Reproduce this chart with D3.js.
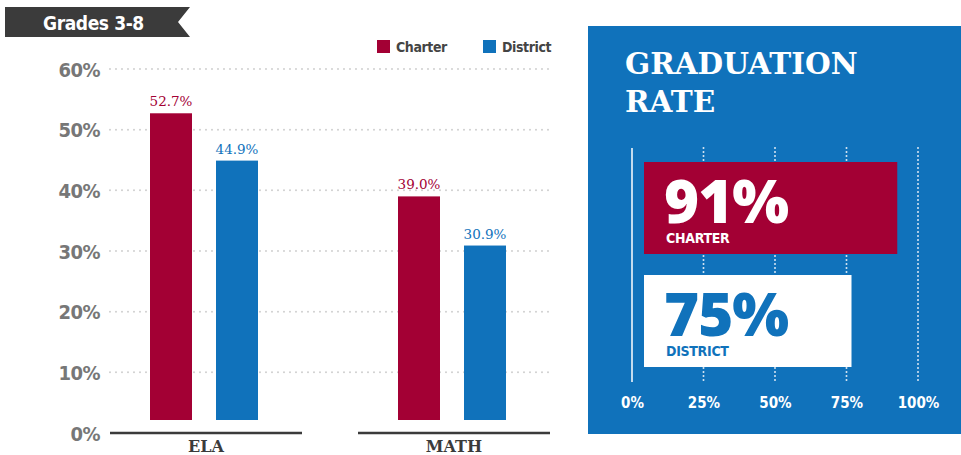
<!DOCTYPE html>
<html>
<head>
<meta charset="utf-8">
<script src="https://cdn.jsdelivr.net/npm/d3@7"></script>
<style>
  body { margin: 0; background: #fff; }
  svg { display: block; }
</style>
</head>
<body>
<div id="canvas"></div>
<script>
"use strict"

/***********************************
 DATA
************************************/
let subjects = ["ELA", "MATH"];
let seriesNames = ["Charter", "District"];
let charterScores = [52.7, 39.0];
let districtScores = [44.9, 30.9];
let yTicks = [0, 10, 20, 30, 40, 50, 60];

let gradSeries = ["CHARTER", "DISTRICT"];
let gradRates = [91, 75];
let gradTicks = [0, 25, 50, 75, 100];

/***********************************
 CONFIG
************************************/
let svgWidth = 961;
let svgHeight = 455;
let red = "#a30034";
let blue = "#1072bb";
let dark = "#3b3b3b";
let condensed = "'Liberation Sans Narrow', 'DejaVu Sans Condensed', sans-serif";
let slab = "'DejaVu Serif', serif";

let svg = d3.select("#canvas")
    .append("svg")
    .attr("width", svgWidth)
    .attr("height", svgHeight);

/***********************************
 LEFT CHART: GRADES 3-8
************************************/
let yScale = d3.scaleLinear()
    .domain([0, 60])
    .range([433, 69]);

let xScale = d3.scaleBand()
    .domain(subjects)
    .range([110, 550])
    .paddingInner(56 / 248)
    .paddingOuter(0);

let xInner = d3.scaleBand()
    .domain(seriesNames)
    .range([40, 148])
    .paddingInner(24 / 66)
    .paddingOuter(0);

let colorScale = d3.scaleOrdinal()
    .domain(seriesNames)
    .range([red, blue]);

// banner
svg.append("path")
    .attr("d", "M5,7 L190,7 L178,22 L190,37 L5,37 Z")
    .attr("fill", dark);

svg.append("text")
    .attr("x", 43)
    .attr("y", 30)
    .attr("fill", "#fff")
    .attr("font-family", condensed)
    .attr("font-weight", "bold")
    .attr("font-size", 19)
    .attr("letter-spacing", -0.4)
    .text("Grades 3-8");

// dotted gridlines
let grid = svg.append("g");
grid.selectAll("line")
    .data(yTicks.filter(d => d > 0))
    .join("line")
    .attr("x1", 110)
    .attr("x2", 550)
    .attr("y1", d => yScale(d))
    .attr("y2", d => yScale(d))
    .attr("stroke", "#cfcfcf")
    .attr("stroke-width", 2)
    .attr("stroke-linecap", "round")
    .attr("stroke-dasharray", "0,6");

// y axis labels
let yAxis = d3.axisLeft(yScale)
    .tickValues(yTicks)
    .tickFormat(d => d + "%")
    .tickSize(0)
    .tickPadding(0);

let yAxisG = svg.append("g")
    .attr("transform", "translate(100,0)")
    .call(yAxis);
yAxisG.select(".domain").remove();
yAxisG.selectAll("text")
    .attr("fill", "#777")
    .attr("font-family", condensed)
    .attr("font-weight", "bold")
    .attr("font-size", 20)
    .attr("letter-spacing", -0.5)
    .attr("dy", "0.35em");

// rows of data per subject
let rows = subjects.map((s, i) => ({
    subject: s,
    values: [
        { name: "Charter", value: charterScores[i] },
        { name: "District", value: districtScores[i] }
    ]
}));

let groups = svg.selectAll("g.subject")
    .data(rows)
    .join("g")
    .attr("class", "subject")
    .attr("transform", d => `translate(${xScale(d.subject)},0)`);

// bars (stop a little above the baseline, like the original)
groups.selectAll("rect")
    .data(d => d.values)
    .join("rect")
    .attr("x", d => xInner(d.name))
    .attr("width", xInner.bandwidth())
    .attr("y", d => yScale(d.value))
    .attr("height", d => yScale(0) - 13 - yScale(d.value))
    .attr("fill", d => colorScale(d.name));

// value labels
groups.selectAll("text.value")
    .data(d => d.values)
    .join("text")
    .attr("class", "value")
    .attr("x", d => xInner(d.name) + xInner.bandwidth() / 2)
    .attr("y", d => yScale(d.value) - 7)
    .attr("text-anchor", "middle")
    .attr("fill", d => colorScale(d.name))
    .attr("font-family", slab)
    .attr("font-size", 13.5)
    .text(d => d.value.toFixed(1) + "%");

// baseline segments
groups.append("line")
    .attr("x1", 0)
    .attr("x2", xScale.bandwidth())
    .attr("y1", yScale(0))
    .attr("y2", yScale(0))
    .attr("stroke", dark)
    .attr("stroke-width", 2.5);

// category labels
groups.append("text")
    .attr("x", xScale.bandwidth() / 2)
    .attr("y", 452)
    .attr("text-anchor", "middle")
    .attr("fill", dark)
    .attr("font-family", slab)
    .attr("font-weight", "bold")
    .attr("font-size", 16)
    .text(d => d.subject);

// legend
let legend = svg.append("g");
let legendX = [377, 483];
legend.selectAll("rect")
    .data(seriesNames)
    .join("rect")
    .attr("x", (d, i) => legendX[i])
    .attr("y", 40)
    .attr("width", 13)
    .attr("height", 13)
    .attr("fill", d => colorScale(d));
legend.selectAll("text")
    .data(seriesNames)
    .join("text")
    .attr("x", (d, i) => legendX[i] + 19)
    .attr("y", 52)
    .attr("fill", "#444")
    .attr("font-family", condensed)
    .attr("font-weight", "bold")
    .attr("font-size", 14)
    .attr("letter-spacing", -0.4)
    .text(d => d);

/***********************************
 RIGHT PANEL: GRADUATION RATE
************************************/
svg.append("rect")
    .attr("x", 588)
    .attr("y", 26)
    .attr("width", 373)
    .attr("height", 408)
    .attr("fill", blue);

let title = svg.append("text")
    .attr("fill", "#fff")
    .attr("font-family", slab)
    .attr("font-weight", "bold")
    .attr("font-size", 29.5);
title.append("tspan").attr("x", 625).attr("y", 74).text("GRADUATION");
title.append("tspan").attr("x", 625).attr("y", 112).text("RATE");

let gx = d3.scaleLinear()
    .domain([0, 100])
    .range([632, 918]);

let gy = d3.scaleBand()
    .domain(gradSeries)
    .range([162, 367])
    .paddingInner(21 / 113)
    .paddingOuter(0);

// vertical reference lines
svg.append("g")
    .selectAll("line")
    .data(gradTicks)
    .join("line")
    .attr("x1", d => gx(d))
    .attr("x2", d => gx(d))
    .attr("y1", 148)
    .attr("y2", 382)
    .attr("stroke", d => d === 0 ? "#fff" : "#dce9f4")
    .attr("stroke-width", d => d === 0 ? 1.5 : 2)
    .attr("stroke-linecap", d => d === 0 ? "butt" : "round")
    .attr("stroke-dasharray", d => d === 0 ? null : "0,4");

// tick labels
let gAxis = d3.axisBottom(gx)
    .tickValues(gradTicks)
    .tickFormat(d => d + "%")
    .tickSize(0)
    .tickPadding(0);
let gAxisG = svg.append("g")
    .attr("transform", "translate(0,397)")
    .call(gAxis);
gAxisG.select(".domain").remove();
gAxisG.selectAll("text")
    .attr("fill", "#fff")
    .attr("font-family", condensed)
    .attr("font-weight", "bold")
    .attr("font-size", 15)
    .attr("dy", "0.75em");

let gradRows = gradSeries.map((s, i) => ({ name: s, value: gradRates[i] }));
let gradFill = d3.scaleOrdinal().domain(gradSeries).range([red, "#fff"]);
let gradText = d3.scaleOrdinal().domain(gradSeries).range(["#fff", blue]);

let gBars = svg.selectAll("g.grad")
    .data(gradRows)
    .join("g")
    .attr("class", "grad");

gBars.append("rect")
    .attr("x", gx(0) + 12)
    .attr("y", d => gy(d.name))
    .attr("width", d => gx(d.value) + 5 - gx(0) - 12)
    .attr("height", gy.bandwidth())
    .attr("fill", d => gradFill(d.name));

gBars.append("text")
    .attr("x", 664)
    .attr("y", d => gy(d.name) + 61)
    .attr("fill", d => gradText(d.name))
    .attr("font-family", "'Open Sans', sans-serif")
    .attr("font-weight", 800)
    .attr("font-size", 60)
    .attr("letter-spacing", -1)
    .text(d => d.value + "%");

gBars.append("text")
    .attr("x", 666)
    .attr("y", d => gy(d.name) + 81)
    .attr("fill", d => gradText(d.name))
    .attr("font-family", condensed)
    .attr("font-weight", "bold")
    .attr("font-size", 14)
    .attr("letter-spacing", -0.3)
    .text(d => d.name);
</script>
</body>
</html>
